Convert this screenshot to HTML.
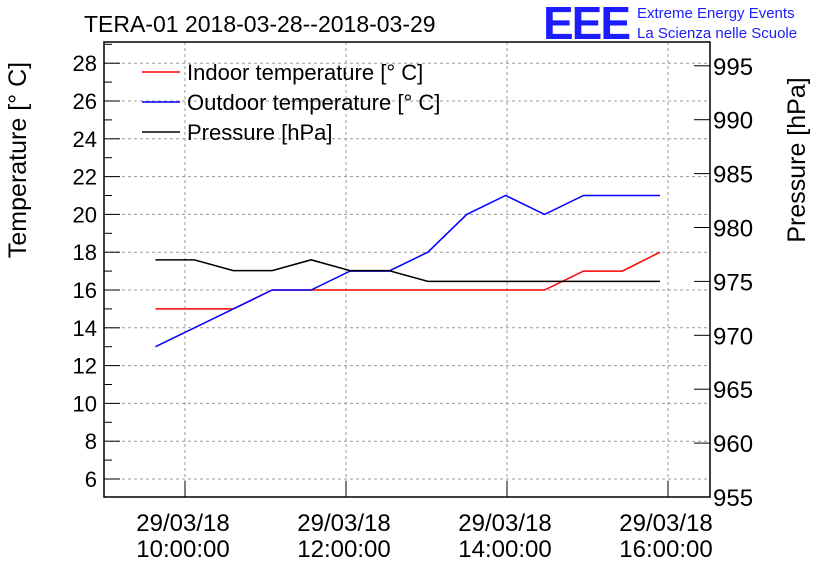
<!DOCTYPE html>
<html><head><meta charset="utf-8"><style>
body{margin:0;background:#fff;}
svg{display:block;font-family:"Liberation Sans",sans-serif;}
</style></head><body>
<svg id="c" width="836" height="572">
<text x="84" y="32" font-size="23">TERA-01 2018-03-28--2018-03-29</text>
<text x="543" y="39" font-size="46" fill="#1c1cff" font-weight="bold" style="letter-spacing:-2px">EEE</text>
<text x="637" y="18" font-size="15" fill="#1c1cff">Extreme Energy Events</text>
<text x="637" y="38" font-size="15" fill="#1c1cff">La Scienza nelle Scuole</text>
<g id="grid"></g><g id="axes"></g><g id="series"></g>
<text transform="translate(26,160) rotate(-90)" font-size="25" text-anchor="middle">Temperature [° C]</text>
<text transform="translate(805,160) rotate(-90)" font-size="25" text-anchor="middle">Pressure [hPa]</text>
<g>
<line x1="142" y1="72" x2="180" y2="72" stroke="red" stroke-width="1.5"/><text x="187" y="80" font-size="22">Indoor temperature [° C]</text>
<line x1="142" y1="102" x2="180" y2="102" stroke="blue" stroke-width="1.5"/><text x="187" y="110" font-size="22">Outdoor temperature [° C]</text>
<line x1="142" y1="132" x2="180" y2="132" stroke="black" stroke-width="1.5"/><text x="187" y="140" font-size="22">Pressure [hPa]</text>
</g>
</svg>
<script>
const minutes=[-22,7,36,65,94,123,152,181,210,239,268,297,326,354];
const indoor=[15,15,15,16,16,16,16,16,16,16,16,17,17,18];
const outdoor=[13,14,15,16,16,17,17,18,20,21,20,21,21,21];
const pressure=[977,977,976,976,977,976,976,975,975,975,975,975,975,975];
const tempTicks=[6,8,10,12,14,16,18,20,22,24,26,28];
const presTicks=[955,960,965,970,975,980,985,990,995];
const timeTicks=[0,120,240,360];
const timeLabels=["10:00:00","12:00:00","14:00:00","16:00:00"];
const L=104,R=710,T=42,B=497;
const x=m=>185+m*80.5/60;
const yT=v=>479-(v-6)*18.9;
const yP=v=>497-(v-955)*10.78;
const NS="http://www.w3.org/2000/svg";
function mk(tag,attrs,parent,txt){const e=document.createElementNS(NS,tag);for(const k in attrs)e.setAttribute(k,attrs[k]);if(txt!==undefined)e.textContent=txt;document.getElementById(parent).appendChild(e);return e;}
tempTicks.forEach(v=>{const g=mk('line',{x1:L,x2:R,y1:yT(v),y2:yT(v),stroke:'#999','stroke-dasharray':'3,3'},'grid');


const t=mk('text',{x:97,y:yT(v)+8,'font-size':22,'text-anchor':'end'},'axes',v);


mk('line',{x1:L,x2:L+16,y1:yT(v),y2:yT(v),stroke:'#000'},'axes');
mk('line',{x1:L,x2:L+8,y1:yT(v+1),y2:yT(v+1),stroke:'#000'},'axes');});
presTicks.forEach(v=>{const t=mk('text',{x:713,y:yP(v)+9,'font-size':24},'axes',v);


mk('line',{x1:R-16,x2:R,y1:yP(v),y2:yP(v),stroke:'#000'},'axes');});
timeTicks.forEach((m,i)=>{const g=mk('line',{x1:x(m),x2:x(m),y1:T,y2:B,stroke:'#999','stroke-dasharray':'3,3'},'grid');


mk('line',{x1:x(m),x2:x(m),y1:B-16,y2:B,stroke:'#000'},'axes');
const t1=mk('text',{x:x(m)-2,y:531,'font-size':24,'text-anchor':'middle'},'axes','29/03/18');


const t2=mk('text',{x:x(m)-2,y:557,'font-size':24,'text-anchor':'middle'},'axes',timeLabels[i]);

});
const f=mk('rect',{x:L,y:T,width:R-L,height:B-T,fill:'none',stroke:'#000','stroke-width':1.5},'axes');


function line(vals,yf,col,name){const p=mk('polyline',{points:vals.map((v,i)=>x(minutes[i])+','+yf(v)).join(' '),fill:'none',stroke:col,'stroke-width':1.5},'series');

}
line(indoor,yT,'red','indoor-line');
line(outdoor,yT,'blue','outdoor-line');
line(pressure,yP,'black','pressure-line');
</script>
</body></html>
